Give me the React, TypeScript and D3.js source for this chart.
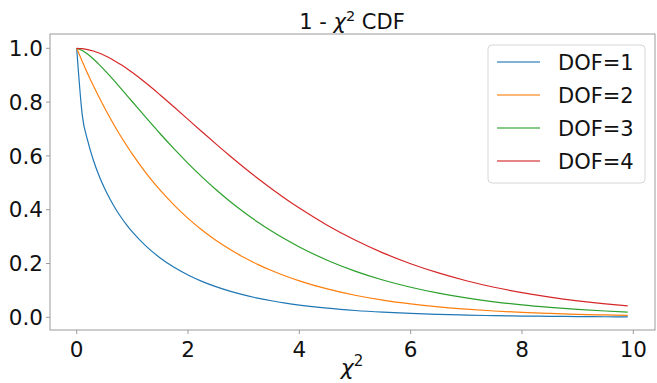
import React from 'react';
import * as d3 from 'd3';

// chi^2 values sampled along the x axis
const xs = [0, 0.1, 0.2, 0.3, 0.4, 0.5, 0.6, 0.7, 0.8, 0.9, 1, 1.25, 1.5, 1.75, 2, 2.25, 2.5, 2.75, 3, 3.25, 3.5, 3.75, 4, 4.5, 5, 5.5, 6, 6.5, 7, 7.5, 8, 8.5, 9, 9.5, 9.9];

const dof1 = [1, 0.7518, 0.6547, 0.5839, 0.5271, 0.4795, 0.4386, 0.4028, 0.3711, 0.3428, 0.3173, 0.2636, 0.2207, 0.1859, 0.1573, 0.1336, 0.1138, 0.0971, 0.0833, 0.0714, 0.0614, 0.0528, 0.0455, 0.0339, 0.0253, 0.019, 0.0143, 0.0108, 0.0082, 0.0062, 0.0047, 0.0036, 0.0027, 0.0021, 0.0017];
const dof2 = [1, 0.9512, 0.9048, 0.8607, 0.8187, 0.7788, 0.7408, 0.7047, 0.6703, 0.6376, 0.6065, 0.5353, 0.4724, 0.4169, 0.3679, 0.3247, 0.2865, 0.2528, 0.2231, 0.1969, 0.1738, 0.1534, 0.1353, 0.1054, 0.0821, 0.0639, 0.0498, 0.0388, 0.0302, 0.0235, 0.0183, 0.0143, 0.0111, 0.0087, 0.0071];
const dof3 = [1, 0.9918, 0.9776, 0.96, 0.9402, 0.9189, 0.8964, 0.8732, 0.8495, 0.8254, 0.8013, 0.7411, 0.6823, 0.6259, 0.5724, 0.5222, 0.4752, 0.4316, 0.3916, 0.3546, 0.3208, 0.2898, 0.2615, 0.2123, 0.1718, 0.1386, 0.1116, 0.0897, 0.0719, 0.0576, 0.046, 0.0369, 0.0293, 0.0234, 0.0195];
const dof4 = [1, 0.9988, 0.9953, 0.9898, 0.9825, 0.9735, 0.9631, 0.9513, 0.9384, 0.9245, 0.9098, 0.8699, 0.8266, 0.7817, 0.7358, 0.69, 0.6446, 0.6004, 0.5578, 0.5169, 0.4779, 0.441, 0.406, 0.3425, 0.2873, 0.2396, 0.1991, 0.1649, 0.1359, 0.1117, 0.0916, 0.075, 0.0611, 0.0497, 0.0422];

const labels = ['DOF=1', 'DOF=2', 'DOF=3', 'DOF=4'];
const colors = ['#1f77b4', '#ff7f0e', '#2ca02c', '#d62728'];
const xTicks = [0, 2, 4, 6, 8, 10];
const yTicks = [0, 0.2, 0.4, 0.6, 0.8, 1.0];

const W = 657;
const H = 383;
const box = { left: 50, right: 655, top: 34, bottom: 330 };
const font = 'DejaVu Sans, sans-serif';

const App = () => {
  const x = d3.scaleLinear().domain([0, 10]).range([76.7, 633.3]);
  const y = d3.scaleLinear().domain([0, 1]).range([317.3, 48.3]);
  const series = [dof1, dof2, dof3, dof4];

  const line = d3
    .line<number>()
    .x((d, i) => x(xs[i]))
    .y((d) => y(d))
    .curve(d3.curveMonotoneX);

  return (
    <svg width={W} height={H} style={{ position: 'absolute', left: 0, top: 0 }} fontFamily={font}>
      <rect width={W} height={H} fill="white" />
      {series.map((s, k) => (
        <path key={k} d={line(s) || ''} fill="none" stroke={colors[k]} strokeWidth={1.2} />
      ))}
      <rect
        x={box.left}
        y={box.top}
        width={box.right - box.left}
        height={box.bottom - box.top}
        fill="none"
        stroke="#9a9a9a"
        strokeWidth={1}
      />
      {xTicks.map((t) => (
        <g key={t} transform={`translate(${x(t)},${box.bottom})`}>
          <line y2={4} stroke="#9a9a9a" />
          <text y={27} textAnchor="middle" fontSize={21.5} fill="#111">
            {t}
          </text>
        </g>
      ))}
      {yTicks.map((t) => (
        <g key={t} transform={`translate(${box.left},${y(t)})`}>
          <line x2={-4} stroke="#9a9a9a" />
          <text x={-7} dy="0.36em" textAnchor="end" fontSize={21.5} fill="#111">
            {t.toFixed(1)}
          </text>
        </g>
      ))}
      <text x={352} y={29} textAnchor="middle" fontSize={21} fill="#111">
        1 - <tspan fontStyle="italic">χ</tspan>
        <tspan fontSize={14.5} dy={-8}>2</tspan>
        <tspan dy={8}> CDF</tspan>
      </text>
      <text x={352} y={375} textAnchor="middle" fontSize={22} fill="#111">
        <tspan fontStyle="italic">χ</tspan>
        <tspan fontSize={15} dy={-9}>2</tspan>
      </text>
      <g>
        <rect x={488} y={45} width={157} height={138} rx={4} fill="white" fillOpacity={0.8} stroke="#d6d6d6" />
        {labels.map((l, k) => (
          <g key={l} transform={`translate(0,${62 + k * 33})`}>
            <line x1={497} x2={540} stroke={colors[k]} strokeWidth={1.3} opacity={0.75} />
            <text x={558} dy="0.36em" fontSize={21} fill="#111">
              {l}
            </text>
          </g>
        ))}
      </g>
    </svg>
  );
};

export default App;
